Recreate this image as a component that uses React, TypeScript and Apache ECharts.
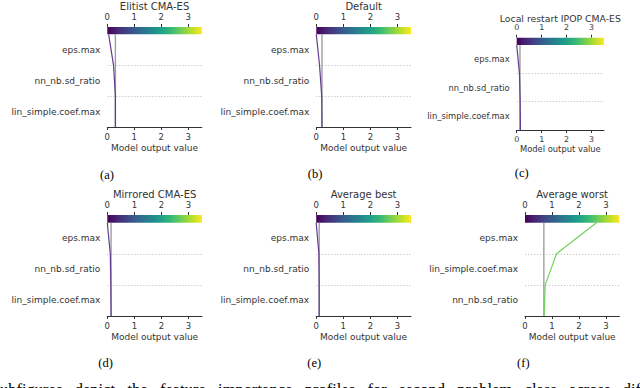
import React, { useEffect, useRef } from 'react';
import * as echarts from 'echarts';

// ---------- data ----------
const xTicks = [0, 1, 2, 3];
const xMin = 0;
const xMax = 3.5;

const panelTitles = ['Elitist CMA-ES', 'Default', 'Local restart IPOP CMA-ES', 'Mirrored CMA-ES', 'Average best', 'Average worst'];
const subLabels = ['(a)', '(b)', '(c)', '(d)', '(e)', '(f)'];

// features listed bottom -> top
const featuresCommon = ['lin_simple.coef.max', 'nn_nb.sd_ratio', 'eps.max'];
const featuresWorst = ['nn_nb.sd_ratio', 'lin_simple.coef.max', 'eps.max'];

const baseValues = [0.30, 0.21, 0.13, 0.14, 0.11, 0.70];

// cumulative model output, from base (bottom) to final prediction (top)
const pathElitist = [0.30, 0.30, 0.23, 0.05];
const pathDefault = [0.21, 0.20, 0.12, 0.0];
const pathLocalRestart = [0.15, 0.14, 0.11, 0.0];
const pathMirrored = [0.14, 0.13, 0.11, 0.0];
const pathAvgBest = [0.11, 0.11, 0.10, 0.0];
const pathAvgWorst = [0.71, 0.75, 1.17, 2.65];

const paths = [pathElitist, pathDefault, pathLocalRestart, pathMirrored, pathAvgBest, pathAvgWorst];
const featureSets = [featuresCommon, featuresCommon, featuresCommon, featuresCommon, featuresCommon, featuresWorst];
const lineColors = ['#5f3d8f', '#5f3d8f', '#5f3d8f', '#5f3d8f', '#5f3d8f', '#6fd35a'];

const captionText = 'ubfigures   depict   the   feature   importance   profiles   for   second   problem   class   across   different   c';

const viridis = ['#440154', '#482878', '#3e4989', '#31688e', '#26828e', '#1f9e89', '#35b779', '#6ece58', '#b5de2b', '#fde725'];

// ---------- layout ----------
type L = { left: number; right: number; cbTop: number; top: number; bottom: number; s: number; cap: [number, number] };
const layouts: L[] = [
  { left: 107.3, right: 201.8, cbTop: 26.7, top: 34.3, bottom: 127, s: 1, cap: [107, 175] },
  { left: 316.3, right: 411, cbTop: 26.7, top: 34.3, bottom: 127, s: 1, cap: [315, 174] },
  { left: 516.7, right: 604, cbTop: 37.7, top: 45, bottom: 130, s: 0.93, cap: [521.7, 173] },
  { left: 107.3, right: 202, cbTop: 215, top: 222.7, bottom: 316, s: 1, cap: [105.5, 363] },
  { left: 316.2, right: 411, cbTop: 215, top: 222.7, bottom: 316, s: 1, cap: [314.3, 363] },
  { left: 525, right: 619.3, cbTop: 215, top: 222.7, bottom: 316, s: 1, cap: [523.3, 363] },
];

const TXT = '#333333';
const FONT = 'DejaVu Sans';

function buildOption() {
  const grid: any[] = [];
  const xAxis: any[] = [];
  const yAxis: any[] = [];
  const series: any[] = [];
  const graphic: any[] = [];

  layouts.forEach((l, i) => {
    const w = l.right - l.left;
    const mainG = grid.length;
    grid.push({ left: l.left, top: l.top, width: w, height: l.bottom - l.top });
    const cbG = grid.length;
    grid.push({ left: l.left, top: l.cbTop, width: w, height: l.top - l.cbTop });

    const xMainIdx = xAxis.length;
    xAxis.push({
      type: 'value', gridIndex: mainG, position: 'bottom', min: xMin, max: xMax, interval: 1,
      axisLine: { show: true, lineStyle: { color: TXT, width: 1 } },
      axisTick: { show: true, length: 3, lineStyle: { color: TXT }, customValues: xTicks },
      axisLabel: { fontSize: 8.5 * l.s, color: TXT, margin: 5, fontFamily: FONT, customValues: xTicks },
      splitLine: { show: false },
      name: 'Model output value', nameLocation: 'middle', nameGap: 16.5 * l.s,
      nameTextStyle: { fontSize: 9 * l.s, color: TXT, fontFamily: FONT },
    });
    const xCbIdx = xAxis.length;
    xAxis.push({
      type: 'value', gridIndex: cbG, position: 'top', min: xMin, max: xMax, interval: 1,
      axisLine: { show: false },
      axisTick: { show: true, length: 3, lineStyle: { color: TXT }, customValues: xTicks },
      axisLabel: { fontSize: 8.5 * l.s, color: TXT, margin: 6, fontFamily: FONT, customValues: xTicks },
      splitLine: { show: false },
      name: panelTitles[i], nameLocation: 'middle', nameGap: 16 * l.s,
      nameTextStyle: { fontSize: 10 * l.s, color: TXT, fontFamily: FONT },
    });

    const yCatIdx = yAxis.length;
    yAxis.push({
      type: 'category', gridIndex: mainG, position: 'left', data: featureSets[i],
      axisLine: { show: false }, axisTick: { show: false },
      axisLabel: { fontSize: 9 * l.s, color: TXT, margin: 7, fontFamily: FONT },
      splitLine: { show: false },
    });
    const yValIdx = yAxis.length;
    yAxis.push({
      type: 'value', gridIndex: mainG, position: 'right', min: 0, max: 3, interval: 1,
      axisLine: { show: false }, axisTick: { show: false }, axisLabel: { show: false },
      splitLine: { show: true, showMinLine: false, showMaxLine: false, lineStyle: { color: '#c4c4c4', type: [1.2, 1.8], width: 1 } },
    });
    const yCbIdx = yAxis.length;
    yAxis.push({ type: 'category', gridIndex: cbG, data: ['cb'], show: false });

    series.push({
      type: 'bar', xAxisIndex: xCbIdx, yAxisIndex: yCbIdx, data: [xMax], barWidth: '100%', silent: true,
      itemStyle: {
        color: new echarts.graphic.LinearGradient(0, 0, 1, 0, viridis.map((c, k) => ({ offset: k / (viridis.length - 1), color: c }))),
      },
    });
    series.push({
      type: 'line', xAxisIndex: xMainIdx, yAxisIndex: yValIdx, symbol: 'none', silent: true,
      data: [[baseValues[i], 0], [baseValues[i], 3]],
      lineStyle: { color: '#9e9e9e', width: 1.4 }, z: 3,
    });
    series.push({
      type: 'line', xAxisIndex: xMainIdx, yAxisIndex: yValIdx, symbol: 'none', silent: true,
      data: paths[i].map((v, k) => [v, k]),
      lineStyle: { color: lineColors[i], width: 1.2 }, z: 4,
    });

    graphic.push({
      type: 'text', x: l.cap[0], y: l.cap[1],
      style: { text: subLabels[i], fill: '#000', font: '12.5px "Liberation Serif"', align: 'center', verticalAlign: 'middle' },
    });
  });

  graphic.push({
    type: 'text', x: 0, y: 389,
    style: { text: captionText, fill: '#000', font: '16.5px "Liberation Serif"', align: 'left', verticalAlign: 'middle' },
  });

  return {
    animation: false,
    backgroundColor: '#ffffff',
    textStyle: { fontFamily: FONT },
    grid, xAxis, yAxis, series, graphic,
  };
}

export default function App() {
  const ref = useRef<HTMLDivElement>(null);
  useEffect(() => {
    if (!ref.current) return;
    const chart = echarts.init(ref.current, undefined, { renderer: 'svg' });
    chart.setOption(buildOption() as any);
    return () => chart.dispose();
  }, []);
  return <div ref={ref} style={{ position: 'absolute', left: 0, top: 0, width: 640, height: 388 }} />;
}
